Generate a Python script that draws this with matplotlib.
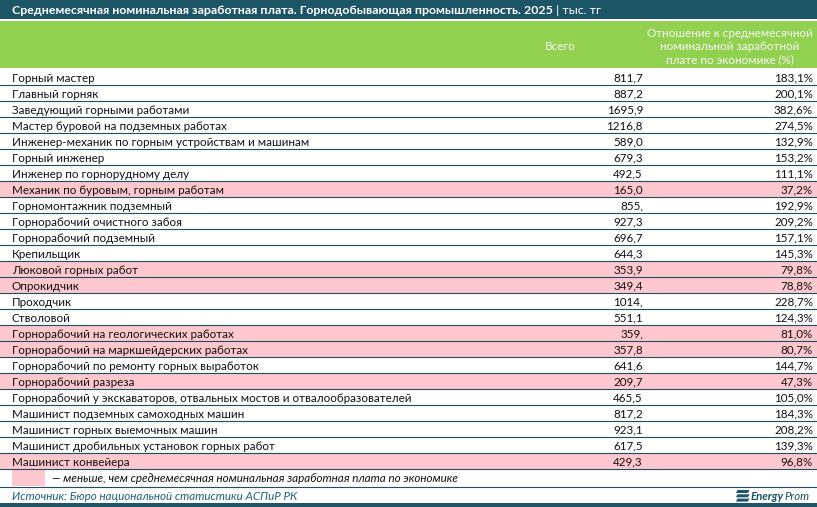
import matplotlib
matplotlib.use("Agg")
import matplotlib.pyplot as plt
from matplotlib.patches import Rectangle, Polygon

plt.rcParams['font.family'] = ['Lato', 'DejaVu Sans']

title = "Среднемесячная номинальная заработная плата. Горнодобывающая промышленность. 2025"
unit = " | тыс. тг"
col_total = "Всего"
col_ratio = "Отношение к среднемесячной\nноминальной заработной\nплате по экономике (%)"

jobs = [
    "Горный мастер",
    "Главный горняк",
    "Заведующий горными работами",
    "Мастер буровой на подземных работах",
    "Инженер-механик по горным устройствам и машинам",
    "Горный инженер",
    "Инженер по горнорудному делу",
    "Механик по буровым, горным работам",
    "Горномонтажник подземный",
    "Горнорабочий очистного забоя",
    "Горнорабочий подземный",
    "Крепильщик",
    "Люковой горных работ",
    "Опрокидчик",
    "Проходчик",
    "Стволовой",
    "Горнорабочий на геологических работах",
    "Горнорабочий на маркшейдерских работах",
    "Горнорабочий по ремонту горных выработок",
    "Горнорабочий разреза",
    "Горнорабочий у экскаваторов, отвальных мостов и отвалообразователей",
    "Машинист подземных самоходных машин",
    "Машинист горных выемочных машин",
    "Машинист дробильных установок горных работ",
    "Машинист конвейера",
]
# as printed in the source table
totals = ["811,7", "887,2", "1695,9", "1216,8", "589,0", "679,3", "492,5", "165,0",
          "855,", "927,3", "696,7", "644,3", "353,9", "349,4", "1014,", "551,1",
          "359,", "357,8", "641,6", "209,7", "465,5", "817,2", "923,1", "617,5", "429,3"]
ratio = [183.1, 200.1, 382.6, 274.5, 132.9, 153.2, 111.1, 37.2, 192.9, 209.2, 157.1,
         145.3, 79.8, 78.8, 228.7, 124.3, 81.0, 80.7, 144.7, 47.3, 105.0, 184.3,
         208.2, 139.3, 96.8]

legend_text = "— меньше, чем среднемесячная номинальная заработная плата по экономике"
source = "Источник: Бюро национальной статистики АСПиР РК"

W, H = 817, 507
teal = "#1b5566"
green = "#92d050"
pink = "#ffc7ce"
line_c = "#1f4e5f"
txt = "#111111"

fig = plt.figure(figsize=(W / 100, H / 100), dpi=100)
ax = fig.add_axes([0, 0, 1, 1])
ax.set_xlim(0, W)
ax.set_ylim(H, 0)
ax.axis("off")

fs = 8.4

# title bar
ax.add_patch(Rectangle((0, 0), W, 19, color=teal, lw=0))
t = ax.text(12, 10.5, title, color="white", fontsize=8.9, fontweight="bold", va="center")
fig.canvas.draw()
bb = t.get_window_extent().transformed(ax.transData.inverted())
ax.text(bb.x1, 10.5, unit, color="white", fontsize=8.9, va="center")

# header
ax.add_patch(Rectangle((0, 21), W, 47, color=green, lw=0))
ax.text(576, 46, col_total, color="#f7f7f7", fontsize=fs, ha="right", va="center")
ax.text(730, 46.5, col_ratio, color="#f7f7f7", fontsize=fs, ha="center", va="center",
        linespacing=1.25)

# rows
top = 69
rh = 16
for i, (name, tot, r) in enumerate(zip(jobs, totals, ratio)):
    y0 = top + i * rh
    if r < 100:
        ax.add_patch(Rectangle((0, y0), W, rh, color=pink, lw=0))
    yc = y0 + rh / 2 + 1.3
    ax.text(12, yc, name, color=txt, fontsize=fs, va="center")
    ax.text(643, yc, tot, color=txt, fontsize=fs, ha="right", va="center")
    ax.text(813, yc, f"{r:.1f}%".replace(".", ","), color=txt, fontsize=fs,
            ha="right", va="center")
    ax.plot([0, W], [y0 + rh, y0 + rh], color=line_c, lw=0.8)

# legend row
ly = top + len(jobs) * rh
ax.add_patch(Rectangle((12, ly + 1), 33, 16, color=pink, lw=0))
ax.text(52, ly + 10, legend_text, color=txt, fontsize=fs, style="italic", va="center")
ax.plot([0, W], [ly + 18, ly + 18], color=line_c, lw=0.8)

# source + logo
sy = ly + 28
ax.text(12, sy, source, color="#1f5f7a", fontsize=fs, style="italic", va="center")
lx = 736
for k in range(3):
    yy = sy - 7 + k * 4.3
    ax.add_patch(Polygon([(lx + 1.5, yy), (lx + 13.5, yy), (lx + 12, yy + 3), (lx, yy + 3)],
                         closed=True, color=teal, lw=0))
e = ax.text(lx + 15, sy, "Energy", color=teal, fontsize=8.2, fontweight="bold",
            style="italic", va="center")
fig.canvas.draw()
eb = e.get_window_extent().transformed(ax.transData.inverted())
ax.text(eb.x1, sy, "Prom", color=teal, fontsize=8.2, style="italic", va="center")

ax.add_patch(Rectangle((0, H - 4), W, 4, color=teal, lw=0))

fig.savefig("out.png", dpi=100)
